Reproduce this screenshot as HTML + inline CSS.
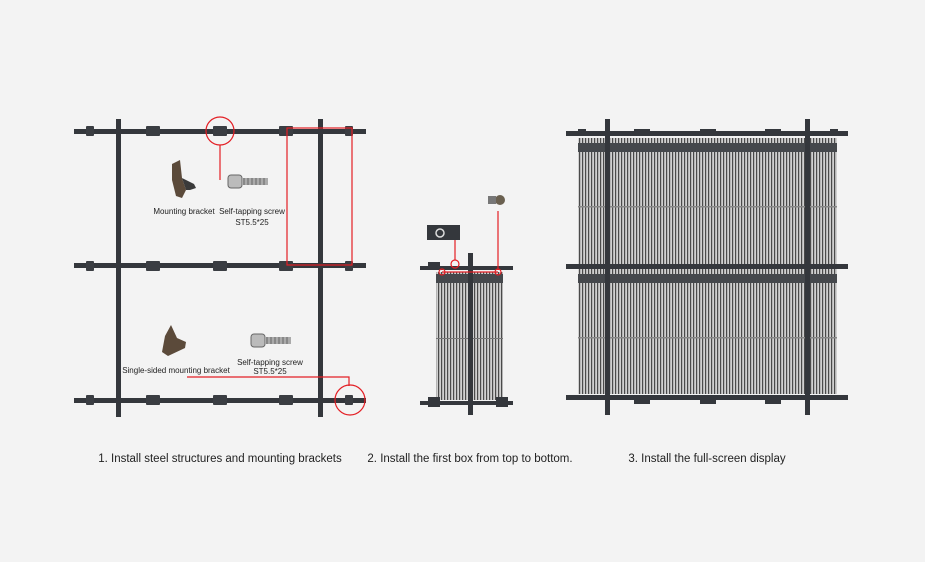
<!DOCTYPE html>
<html><head><style>
body{margin:0;background:#f3f3f3;}
svg{display:block}
text{font-family:"Liberation Sans",sans-serif;fill:#222}
</style></head><body>
<svg width="925" height="562" viewBox="0 0 925 562" xmlns="http://www.w3.org/2000/svg">
<defs>
<pattern id="st" width="3" height="10" patternUnits="userSpaceOnUse">
<rect width="3" height="10" fill="#d0d0d0"/><rect width="1.2" height="10" fill="#4a4a4a"/>
</pattern>
<g id="br"><rect x="-7" y="-5" width="14" height="10" rx="1" fill="#3a3d42"/></g>
<g id="brs"><rect x="-4" y="-5" width="8" height="10" rx="1" fill="#3a3d42"/></g>
</defs>
<rect width="925" height="562" fill="#f3f3f3"/>

<!-- Panel 1 -->
<g fill="#34373c">
<rect x="74" y="129" width="292" height="5"/>
<rect x="74" y="263" width="292" height="5"/>
<rect x="74" y="398" width="292" height="5"/>
<rect x="116" y="119" width="5" height="298"/>
<rect x="318" y="119" width="5" height="298"/>
</g>
<g>
<use href="#brs" x="90" y="131"/><use href="#br" x="153" y="131"/><use href="#br" x="220" y="131"/><use href="#br" x="286" y="131"/><use href="#brs" x="349" y="131"/>
<use href="#brs" x="90" y="266"/><use href="#br" x="153" y="266"/><use href="#br" x="220" y="266"/><use href="#br" x="286" y="266"/><use href="#brs" x="349" y="266"/>
<use href="#brs" x="90" y="400"/><use href="#br" x="153" y="400"/><use href="#br" x="220" y="400"/><use href="#br" x="286" y="400"/><use href="#brs" x="349" y="400"/>
</g>
<g fill="none" stroke="#e31e24" stroke-width="1.2">
<circle cx="220" cy="131" r="14"/>
<line x1="220" y1="145" x2="220" y2="180"/>
<rect x="287" y="128" width="65" height="137"/>
<circle cx="350" cy="400" r="15"/>
<polyline points="187,377 349,377 349,386"/>
</g>
<polygon points="172,164 180,160 182,178 186,190 182,198 176,196 172,180" fill="#5b4a3a"/>
<polygon points="182,178 194,184 196,188 190,190 186,190" fill="#3a3a3a"/>
<polygon points="165,336 171,325 177,338 186,342 185,348 168,356 162,352" fill="#5b4a3a"/>
<g>
<rect x="228" y="175" width="14" height="13" rx="3" fill="#bbb" stroke="#666"/>
<rect x="242" y="178" width="26" height="7" fill="#aaa"/>
<path d="M244 178v7M248 178v7M252 178v7M256 178v7M260 178v7M264 178v7" stroke="#666"/>
<rect x="251" y="334" width="14" height="13" rx="3" fill="#bbb" stroke="#666"/>
<rect x="265" y="337" width="26" height="7" fill="#aaa"/>
<path d="M267 337v7M271 337v7M275 337v7M279 337v7M283 337v7M287 337v7" stroke="#666"/>
</g>
<g font-size="8" text-anchor="middle">
<text x="184" y="214">Mounting bracket</text>
<text x="252" y="214">Self-tapping screw</text>
<text x="252" y="225">ST5.5*25</text>
<text x="176" y="373">Single-sided mounting bracket</text>
<text x="270" y="365">Self-tapping screw</text>
<text x="270" y="374">ST5.5*25</text>
</g>

<!-- Panel 2 -->
<rect x="436" y="272" width="67" height="128" fill="url(#st)"/>
<rect x="436" y="274" width="67" height="9" fill="#45484c"/>
<rect x="436" y="338" width="67" height="1" fill="#777"/>
<g fill="#34373c">
<rect x="420" y="266" width="93" height="4"/>
<rect x="420" y="401" width="93" height="4"/>
<rect x="468" y="253" width="5" height="162"/>
<rect x="428" y="262" width="12" height="8"/>
<rect x="428" y="397" width="12" height="10"/>
<rect x="496" y="397" width="12" height="10"/>
<rect x="427" y="225" width="33" height="15"/>
</g>
<circle cx="440" cy="233" r="4" fill="none" stroke="#ddd" stroke-width="1.5"/>
<circle cx="500" cy="200" r="5" fill="#6a6050"/><rect x="488" y="196" width="8" height="8" fill="#777"/>
<g fill="none" stroke="#e31e24" stroke-width="1.2">
<line x1="455" y1="240" x2="455" y2="260"/>
<circle cx="455" cy="264" r="4"/>
<line x1="498" y1="211" x2="498" y2="270"/>
<line x1="442" y1="272" x2="498" y2="272"/>
<circle cx="442" cy="272" r="3"/><circle cx="498" cy="272" r="3"/>
</g>

<!-- Panel 3 -->
<rect x="578" y="138" width="259" height="256" fill="url(#st)"/>
<rect x="578" y="143" width="259" height="9" fill="#45484c"/>
<rect x="578" y="274" width="259" height="9" fill="#45484c"/>
<rect x="578" y="206" width="259" height="1.5" fill="#888"/>
<rect x="578" y="337" width="259" height="1.5" fill="#888"/>
<g fill="#34373c">
<rect x="566" y="131" width="282" height="5"/>
<rect x="566" y="264" width="282" height="5"/>
<rect x="566" y="395" width="282" height="5"/>
<rect x="605" y="119" width="5" height="296"/>
<rect x="805" y="119" width="5" height="296"/>
<rect x="578" y="129" width="8" height="5"/><rect x="634" y="129" width="16" height="5"/><rect x="700" y="129" width="16" height="5"/><rect x="765" y="129" width="16" height="5"/><rect x="830" y="129" width="8" height="5"/>
<rect x="634" y="398" width="16" height="6"/><rect x="700" y="398" width="16" height="6"/><rect x="765" y="398" width="16" height="6"/>
</g>

<g font-size="11.5" text-anchor="middle">
<text x="220" y="462">1. Install steel structures and mounting brackets</text>
<text x="470" y="462">2. Install the first box from top to bottom.</text>
<text x="707" y="462">3. Install the full-screen display</text>
</g>
</svg>
</body></html>
